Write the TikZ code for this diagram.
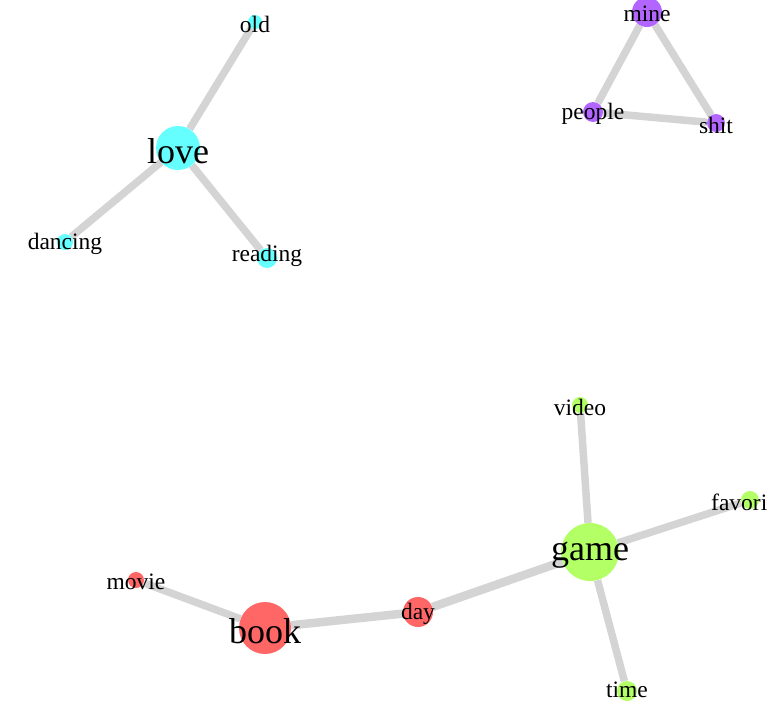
\documentclass[tikz,border=0pt]{standalone}
\usepackage{fontspec}
\setmainfont{Liberation Serif}
\usetikzlibrary{backgrounds}

\definecolor{lovecyan}{RGB}{102,255,255}
\definecolor{minepurple}{RGB}{178,102,255}
\definecolor{bookred}{RGB}{255,102,102}
\definecolor{gamegreen}{RGB}{179,255,102}
\definecolor{edgegray}{RGB}{212,212,212}

\begin{document}
\begin{tikzpicture}[x=1pt,y=-1pt]
        % Redefine some styles
        \tikzstyle{vert} = [circle,draw=none,inner sep=0pt]
        \tikzstyle{tag} = [inner sep=0pt, yshift=-2pt, font=\fontsize{23.5}{23.5}\selectfont]
        \tikzstyle{bigtag} = [inner sep=0pt, yshift=-3pt, font=\fontsize{36}{36}\selectfont]
        \tikzstyle{tie} = [draw=edgegray, line width=7.5pt]

        \useasboundingbox (0,0) rectangle (767,705);

        % Nodes
        \node (love)    [vert, fill=lovecyan, minimum size=44pt]    at (178,148) {};
        \node (old)     [vert, fill=lovecyan, minimum size=14pt]    at (255,22)  {};
        \node (dancing) [vert, fill=lovecyan, minimum size=16pt]    at (65,242)  {};
        \node (reading) [vert, fill=lovecyan, minimum size=20pt]    at (267,258) {};

        \node (mine)    [vert, fill=minepurple, minimum size=30pt]  at (647,12)  {};
        \node (people)  [vert, fill=minepurple, minimum size=20pt]  at (593,112) {};
        \node (shit)    [vert, fill=minepurple, minimum size=18pt]  at (716,123) {};

        \node (video)   [vert, fill=gamegreen, minimum size=16pt]   at (580,405) {};
        \node (favori)  [vert, fill=gamegreen, minimum size=18pt]   at (750,500) {};
        \node (game)    [vert, fill=gamegreen, minimum size=58pt]   at (590,552) {};
        \node (time)    [vert, fill=gamegreen, minimum size=20pt]   at (627,691) {};

        \node (day)     [vert, fill=bookred, minimum size=30pt]     at (418,612) {};
        \node (book)    [vert, fill=bookred, minimum size=52pt]     at (265,628) {};
        \node (movie)   [vert, fill=bookred, minimum size=16pt]     at (136,580) {};

        % Labels
        \node [bigtag] at (love)   {love};
        \node [tag]    at (old)    {old};
        \node [tag]    at (dancing) {dancing};
        \node [tag]    at ([yshift=4pt]reading) {reading};
        \node [tag]    at (mine)   {mine};
        \node [tag]    at (people) {people};
        \node [tag]    at (shit)   {shit};
        \node [tag]    at (video)  {video};
        \node [tag, anchor=west] at ([xshift=-39pt]favori) {favori};
        \node [bigtag] at (game)   {game};
        \node [tag]    at ([yshift=3pt]time) {time};
        \node [tag]    at (day)    {day};
        \node [bigtag] at (book)   {book};
        \node [tag]    at (movie)  {movie};

        % Edges
        \begin{scope}[on background layer]
        \draw [tie] (love)   -- (old);
        \draw [tie] (love)   -- (dancing);
        \draw [tie] (love)   -- (reading);
        \draw [tie] (mine)   -- (people);
        \draw [tie] (mine)   -- (shit);
        \draw [tie] (people) -- (shit);
        \draw [tie] (game)   -- (video);
        \draw [tie] (game)   -- (favori);
        \draw [tie] (game)   -- (time);
        \draw [tie, line width=8.5pt] (game) -- (day);
        \draw [tie, line width=8.5pt] (day)  -- (book);
        \draw [tie] (book)   -- (movie);
        \end{scope}

\end{tikzpicture}
\end{document}
